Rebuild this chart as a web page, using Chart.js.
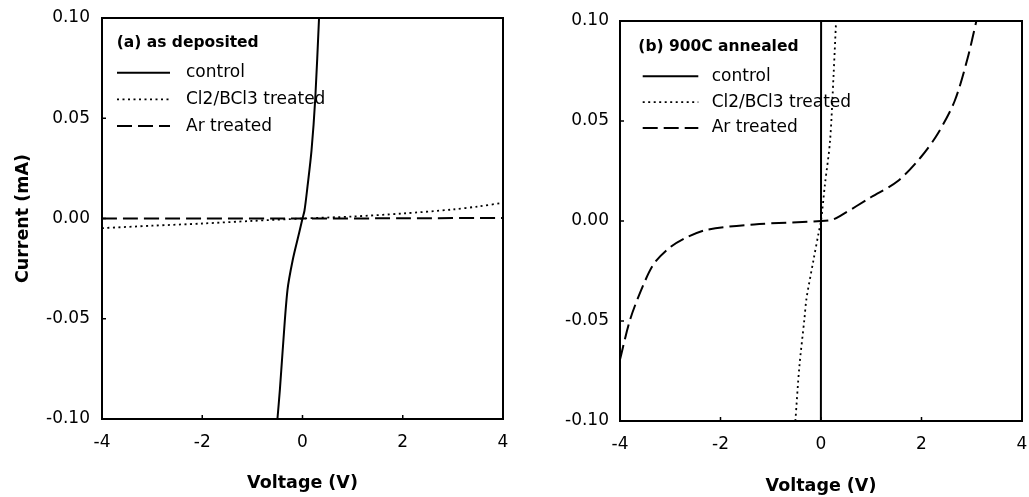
<!DOCTYPE html>
<html>
<head>
<meta charset="utf-8">
<script src="https://cdn.jsdelivr.net/npm/chart.js@4/dist/chart.umd.min.js"></script>
<style>
  body { margin: 0; background: #fff; }
  #wrap { position: relative; width: 1029px; height: 497px; }
  canvas { position: absolute; top: 0; }
</style>
</head>
<body>
<div id="wrap">
  <canvas id="chartA" width="515" height="497" style="left:0"></canvas>
  <canvas id="chartB" width="514" height="497" style="left:515px"></canvas>
</div>
<script>
// datos
const seriesNames = ['control', 'Cl2/BCl3 treated', 'Ar treated'];
const panelTitles = ['(a) as deposited', '(b) 900C annealed'];
const voltageTicks = [-4, -2, 0, 2, 4];
const currentTicks = [-0.10, -0.05, 0.00, 0.05, 0.10];

// (a) as deposited
const aControlV = [-0.50, -0.45, -0.395, -0.30, -0.196, -0.07, 0.00, 0.04, 0.10, 0.18, 0.255, 0.33];
const aControlI = [-0.10, -0.085, -0.0656, -0.0357, -0.0208, -0.0075, 0.00, 0.004, 0.016, 0.034, 0.06, 0.10];
const aCl2V = [-4, -3, -2, -1, 0, 1, 2, 3, 3.5, 4];
const aCl2I = [-0.0048, -0.0036, -0.0025, -0.0012, 0.0, 0.001, 0.0025, 0.0045, 0.006, 0.0078];
const aArV = [-4, -2, 0, 2, 4];
const aArI = [0.0, 0.0, 0.0, 0.0001, 0.0003];

// (b) 900C annealed
const bControlV = [-0.002, 0.0, 0.002];
const bControlI = [-0.10, 0.0, 0.10];
const bCl2V = [-0.51, -0.43, -0.33, -0.29, -0.15, -0.05, 0.0, 0.08, 0.18, 0.25, 0.30];
const bCl2I = [-0.10, -0.0726, -0.049, -0.039, -0.0196, -0.0063, 0.0, 0.0186, 0.040, 0.073, 0.10];
const bArV = [-4.0, -3.8, -3.55, -3.32, -2.99, -2.66, -2.26, -1.33, 0.0, 0.23, 0.4, 1.0, 1.53, 1.99, 2.32, 2.66, 2.92, 3.09];
const bArI = [-0.0693, -0.0494, -0.0328, -0.0212, -0.0129, -0.008, -0.0043, -0.0017, 0.0, 0.0007, 0.0028, 0.012, 0.020, 0.032, 0.0435, 0.060, 0.0816, 0.0998];

Chart.defaults.font.family = 'DejaVu Sans';
Chart.defaults.color = '#000';

function puntos(xs, ys) {
    return xs.map((v, i) => ({ x: v, y: ys[i] }));
}

// marco, marcas de los ejes y leyenda dentro del area
const marcoPlugin = {
    id: 'marco',
    afterDatasetsDraw(chart, args, o) {
        const { ctx, chartArea: a, scales: { x, y } } = chart;
        ctx.save();
        ctx.strokeStyle = '#000';
        ctx.fillStyle = '#000';
        ctx.lineWidth = 2;
        ctx.strokeRect(a.left, a.top, a.right - a.left, a.bottom - a.top);

        ctx.lineWidth = 1.5;
        ctx.beginPath();
        x.ticks.forEach(t => {
            const px = x.getPixelForValue(t.value);
            ctx.moveTo(px, a.bottom - 4);
            ctx.lineTo(px, a.bottom + 1);
        });
        y.ticks.forEach(t => {
            const py = y.getPixelForValue(t.value);
            ctx.moveTo(a.left - 1, py);
            ctx.lineTo(a.left + 4, py);
        });
        ctx.stroke();

        ctx.textBaseline = 'middle';
        ctx.textAlign = 'left';
        ctx.font = 'bold 15.5px "DejaVu Sans"';
        ctx.fillText(o.title, a.left + o.tx, a.top + o.ty);

        chart.data.datasets.forEach((ds, i) => {
            const ly = a.top + o.ly + i * o.ldy;
            ctx.lineWidth = ds.borderWidth;
            ctx.setLineDash(ds.borderDash || []);
            ctx.beginPath();
            ctx.moveTo(a.left + o.lx0, ly);
            ctx.lineTo(a.left + o.lx1, ly);
            ctx.stroke();
            ctx.setLineDash([]);
            ctx.font = '17px "DejaVu Sans"';
            ctx.fillText(ds.label, a.left + o.textX, ly);
        });
        ctx.restore();
    }
};

function crearGrafico(id, series, cfg) {
    const estilos = [
        { borderWidth: 2, borderDash: [] },
        { borderWidth: 1.8, borderDash: [2, 3.5] },
        { borderWidth: 2, borderDash: [15, 6] }
    ];
    return new Chart(document.getElementById(id), {
        type: 'line',
        data: {
            datasets: series.map((s, i) => ({
                label: seriesNames[i],
                data: s,
                borderColor: '#000',
                borderWidth: estilos[i].borderWidth,
                borderDash: estilos[i].borderDash,
                pointRadius: 0,
                tension: 0.3,
                fill: false
            }))
        },
        options: {
            responsive: false,
            animation: false,
            layout: { padding: cfg.padding },
            plugins: {
                legend: { display: false },
                tooltip: { enabled: false },
                marco: cfg.marco
            },
            scales: {
                x: {
                    type: 'linear',
                    min: -4,
                    max: 4,
                    afterFit: s => {
                        s.height = cfg.xHeight;
                        s.paddingLeft = 0;
                        s.paddingRight = 0;
                    },
                    afterBuildTicks: s => { s.ticks = voltageTicks.map(v => ({ value: v })); },
                    grid: { display: false, drawTicks: false },
                    border: { display: false },
                    ticks: {
                        padding: 13,
                        maxRotation: 0,
                        font: { size: 17 },
                        callback: v => String(v)
                    },
                    title: {
                        display: true,
                        text: 'Voltage (V)',
                        font: { size: 17.5, weight: 'bold' },
                        padding: { top: 0, bottom: cfg.xTitlePad }
                    }
                },
                y: {
                    min: -0.1,
                    max: 0.1,
                    afterFit: s => {
                        s.width = cfg.yWidth;
                        s.paddingTop = 0;
                        s.paddingBottom = 0;
                    },
                    afterBuildTicks: s => { s.ticks = currentTicks.map(v => ({ value: v })); },
                    grid: { display: false, drawTicks: false },
                    border: { display: false },
                    ticks: {
                        padding: cfg.yTickPad,
                        font: { size: 17 },
                        callback: v => (Math.abs(v) < 1e-9 ? 0 : v).toFixed(2)
                    },
                    title: {
                        display: cfg.yTitle,
                        text: 'Current (mA)',
                        font: { size: 17.5, weight: 'bold' },
                        padding: { top: 12.5, bottom: 0 }
                    }
                }
            }
        },
        plugins: [marcoPlugin]
    });
}

crearGrafico('chartA',
    [puntos(aControlV, aControlI), puntos(aCl2V, aCl2I), puntos(aArV, aArI)],
    {
        padding: { top: 18, right: 12, left: 0, bottom: 0 },
        xHeight: 78,
        yWidth: 102,
        yTickPad: 12,
        xTitlePad: 3.5,
        yTitle: true,
        marco: { title: panelTitles[0], tx: 14.7, ty: 24.7, lx0: 15, lx1: 68, textX: 84, ly: 54.7, ldy: 26.7 }
    });

crearGrafico('chartB',
    [puntos(bControlV, bControlI), puntos(bCl2V, bCl2I), puntos(bArV, bArI)],
    {
        padding: { top: 21, right: 7, left: 0, bottom: 0 },
        xHeight: 76,
        yWidth: 105,
        yTickPad: 11,
        xTitlePad: 0,
        yTitle: false,
        marco: { title: panelTitles[1], tx: 18.3, ty: 26, lx0: 22.7, lx1: 78.3, textX: 91.7, ly: 55.3, ldy: 25.8 }
    });
</script>
</body>
</html>
